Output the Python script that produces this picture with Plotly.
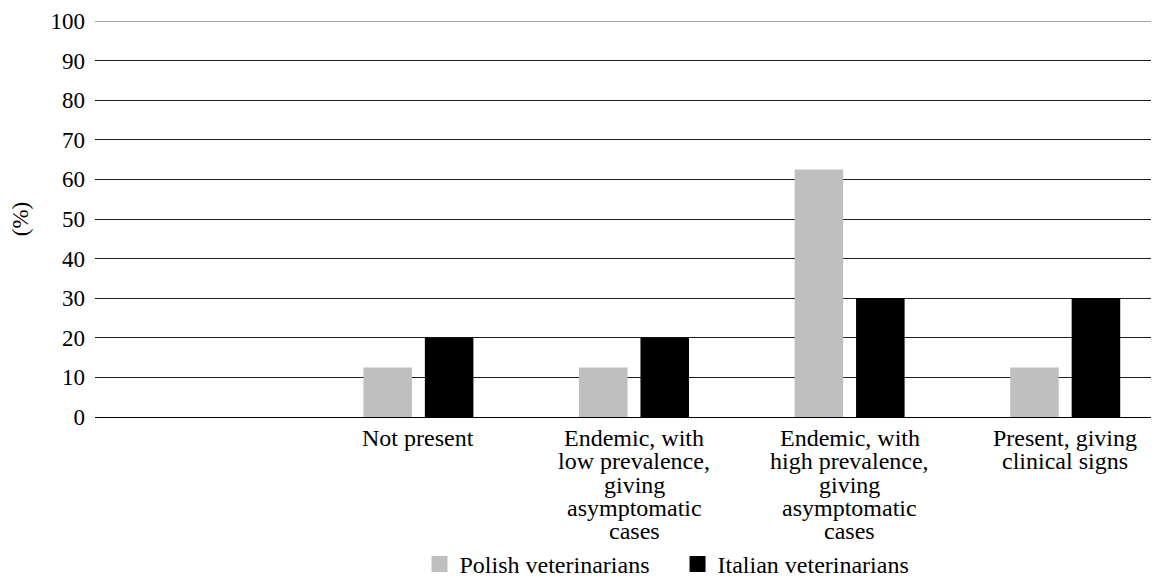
import plotly.graph_objects as go

categories = ["", "Not present",
              "Endemic, with low prevalence, giving asymptomatic cases",
              "Endemic, with high prevalence, giving asymptomatic cases",
              "Present, giving clinical signs"]
label_lines = [[],
               ["Not present"],
               ["Endemic, with", "low prevalence,", "giving", "asymptomatic", "cases"],
               ["Endemic, with", "high prevalence,", "giving", "asymptomatic", "cases"],
               ["Present, giving", "clinical signs"]]
polish = [None, 12.5, 12.5, 62.5, 12.5]
italian = [None, 20, 20, 30, 30]
y_ticks = [0, 10, 20, 30, 40, 50, 60, 70, 80, 90, 100]

FONT = "'Liberation Serif', 'Times New Roman', Times, serif"
GREY = "#bfbfbf"
BLACK = "#000000"
xpos = list(range(len(categories)))

fig = go.Figure()
fig.add_trace(go.Bar(x=xpos, y=polish, name="Polish veterinarians",
                     marker=dict(color=GREY, line=dict(width=0)), showlegend=False))
fig.add_trace(go.Bar(x=xpos, y=italian, name="Italian veterinarians",
                     marker=dict(color=BLACK, line=dict(width=0)), showlegend=False))
# legend entries with larger square swatches
fig.add_trace(go.Scatter(x=[None], y=[None], mode="markers", name="Polish veterinarians",
                         marker=dict(symbol="square", size=16, color=GREY)))
fig.add_trace(go.Scatter(x=[None], y=[None], mode="markers", name="Italian veterinarians",
                         marker=dict(symbol="square", size=16, color=BLACK)))

annotations = []
for i, lines in enumerate(label_lines):
    for k, line in enumerate(lines):
        annotations.append(dict(x=xpos[i], y=0, xref="x", yref="paper",
                                text=line, showarrow=False,
                                xanchor="center", yanchor="middle",
                                yshift=-21 - 23.3 * k,
                                font=dict(family=FONT, size=24, color="black")))

# page body has an 8px margin; size/margins compensate so the plot lands where the reference has it
fig.update_layout(
    width=1151, height=568,
    margin=dict(l=87, r=0, t=13, b=159, autoexpand=False),
    paper_bgcolor="white", plot_bgcolor="white",
    font=dict(family=FONT, size=24, color="black"),
    barmode="group", bargap=0.43, bargroupgap=0.21,
    xaxis=dict(range=[-0.5, 4.435], showgrid=False, zeroline=False,
               showticklabels=False, showline=False, fixedrange=True),
    yaxis=dict(range=[0, 100], tickvals=y_ticks, showgrid=True,
               gridcolor="#1e1e1e", gridwidth=1,
               zeroline=True, zerolinecolor="black", zerolinewidth=1,
               ticklabelstandoff=9,
               tickfont=dict(family=FONT, size=23, color="black"),
               title=dict(text="(%)", font=dict(family=FONT, size=23, color="black"),
                          standoff=22)),
    legend=dict(orientation="h", x=0.305, xanchor="left", y=-0.372, yanchor="middle",
                font=dict(family=FONT, size=24, color="black"),
                itemwidth=30, entrywidth=213, entrywidthmode="pixels",
                bgcolor="rgba(0,0,0,0)"),
    annotations=annotations,
    shapes=[dict(type="line", xref="paper", yref="y", x0=0, x1=1, y0=100, y1=100,
                 line=dict(color="#8a8a8a", width=1.5), layer="above")],
)

fig.write_html("out.html")
